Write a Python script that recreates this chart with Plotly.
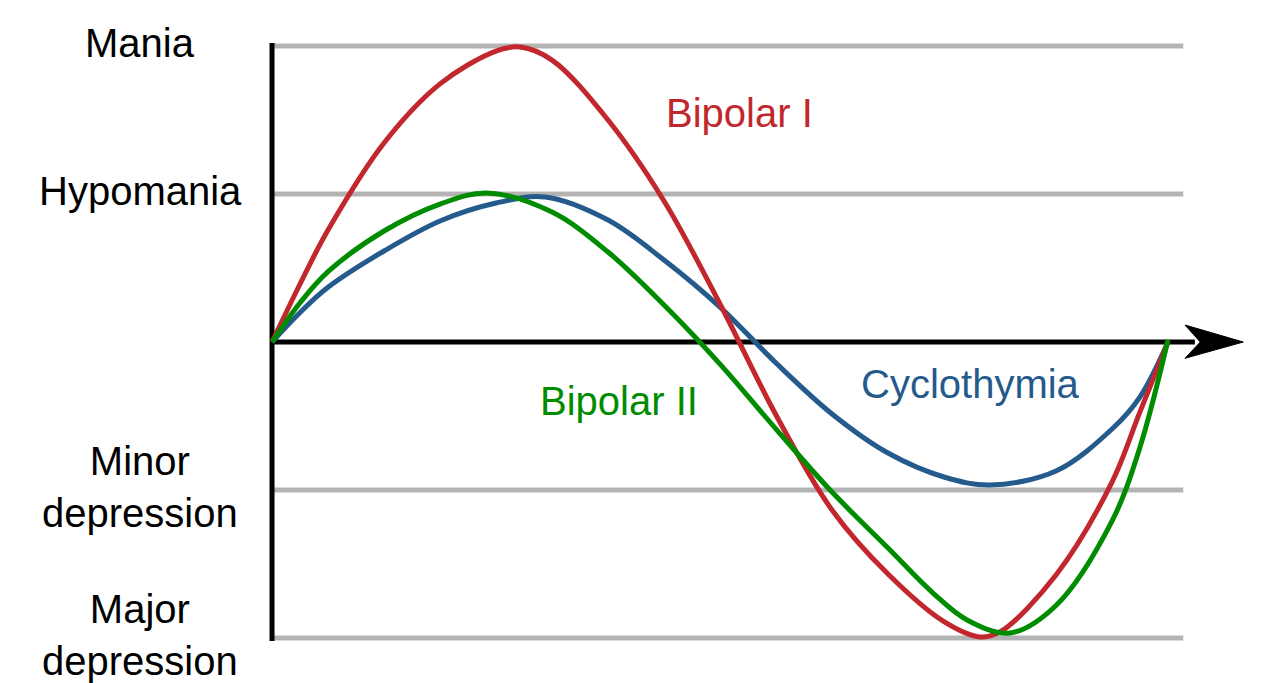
import plotly.graph_objects as go

# time axis 0..100, mood level: 2 mania, 1 hypomania, 0 euthymia, -1 minor, -2 major
bip1_x = [0, 3.13, 6.25, 12.5, 18.75, 25, 27.68, 31.25, 37.5, 43.75, 50, 56.25, 62.5, 68.75, 75, 79.02,
          81.25, 87.5, 93.75, 96.88, 100]
bip1_y = [0, 0.392, 0.757, 1.345, 1.744, 1.966, 1.993, 1.905, 1.500, 0.953, 0.257, -0.493, -1.135, -1.568,
          -1.89, -1.993, -1.959, -1.574, -0.946, -0.47, 0]

bip2_x = [0, 3.13, 6.25, 12.5, 18.75, 24.0, 31.25, 37.5, 43.75, 50, 56.25, 62.5, 68.75, 73.77, 77.57, 82.37,
          87.5, 93.75, 96.88, 100]
bip2_y = [0, 0.265, 0.475, 0.750, 0.932, 1.007, 0.878, 0.608, 0.250, -0.149, -0.588, -1.014, -1.392, -1.696,
          -1.878, -1.966, -1.78, -1.21, -0.709, 0.014]

cyc_x = [0, 3.13, 6.25, 12.5, 18.75, 25, 30.47, 37.5, 43.75, 50, 56.25, 62.5, 68.75, 75, 80.13, 87.5,
         93.75, 96.88, 100]
cyc_y = [0, 0.20, 0.37, 0.615, 0.818, 0.939, 0.980, 0.824, 0.554, 0.236, -0.142, -0.486, -0.750, -0.912,
         -0.966, -0.872, -0.588, -0.37, 0]

levels = [2, 1, -1, -2]
level_labels = ["Mania", "Hypomania", "Minor<br>depression", "Major<br>depression"]

RED = "#c1272d"
GREEN = "#008c00"
BLUE = "#255a8c"
GRAY = "#b3b3b3"
FONT = "Liberation Sans, Arial, sans-serif"

fig = go.Figure()

for lv in levels:
    fig.add_trace(go.Scatter(x=[0, 101.7], y=[lv, lv], mode="lines",
                             line=dict(color=GRAY, width=5), hoverinfo="skip"))

# axes
fig.add_trace(go.Scatter(x=[0, 0], y=[2.02, -2.02], mode="lines",
                         line=dict(color="black", width=5), hoverinfo="skip"))
fig.add_trace(go.Scatter(x=[0, 103.0], y=[0, 0], mode="lines",
                         line=dict(color="black", width=5), hoverinfo="skip"))
fig.add_trace(go.Scatter(x=[108.4, 101.9, 103.6, 101.9, 108.4], y=[0, 0.115, 0, -0.11, 0],
                         mode="lines", fill="toself", fillcolor="black",
                         line=dict(color="black", width=1), hoverinfo="skip"))

for xs, ys, col in [(cyc_x, cyc_y, BLUE), (bip1_x, bip1_y, RED), (bip2_x, bip2_y, GREEN)]:
    fig.add_trace(go.Scatter(x=xs, y=ys, mode="lines",
                             line=dict(color=col, width=5, shape="spline", smoothing=1.0,
                                       simplify=False)))

for lv, lab in zip(levels, level_labels):
    fig.add_annotation(x=-14.73, y=lv, text=lab, showarrow=False, xanchor="center",
                       yanchor="middle", align="center", yshift=3,
                       font=dict(family=FONT, size=40, color="black"))

fig.add_annotation(x=52.2, y=1.55, text="Bipolar I", showarrow=False,
                   font=dict(family=FONT, size=40, color=RED))
fig.add_annotation(x=38.7, y=-0.40, text="Bipolar II", showarrow=False,
                   font=dict(family=FONT, size=40, color=GREEN))
fig.add_annotation(x=78.0, y=-0.285, text="Cyclothymia", showarrow=False,
                   font=dict(family=FONT, size=40, color=BLUE))

fig.update_layout(
    width=1280, height=683, margin=dict(l=0, r=0, t=0, b=0),
    paper_bgcolor="white", plot_bgcolor="white", showlegend=False,
    xaxis=dict(range=[-30.36, 112.5], visible=False, fixedrange=True),
    yaxis=dict(range=[-2.304, 2.311], visible=False, fixedrange=True),
)

fig.write_html("out.html")
